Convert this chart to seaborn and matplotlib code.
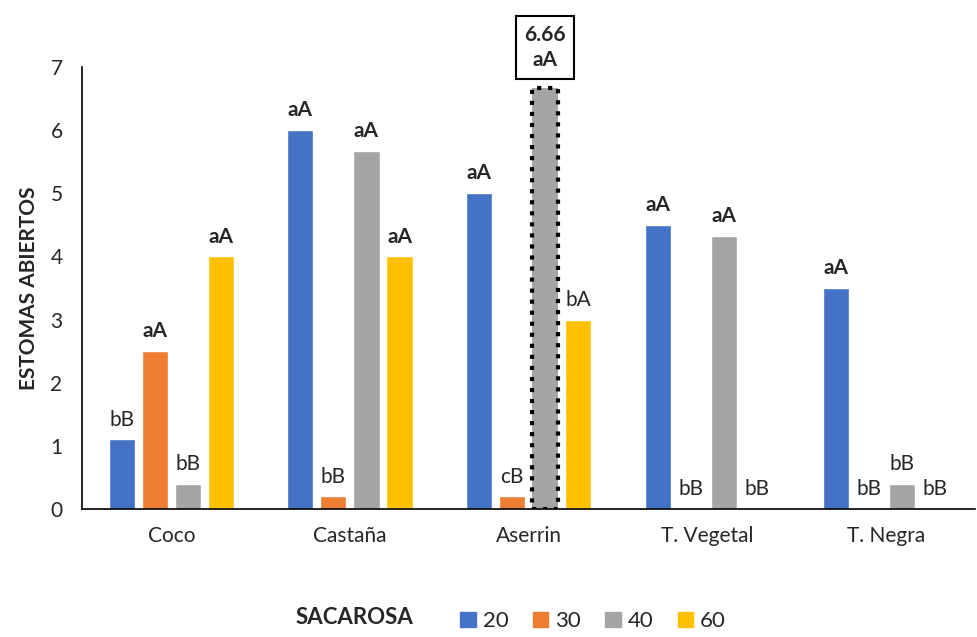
import pandas as pd
import matplotlib.pyplot as plt
import seaborn as sns

# Chart data
sustratos = ['Coco', 'Castaña', 'Aserrin', 'T. Vegetal', 'T. Negra']
dosis = ['20', '30', '40', '60']
valores = {
    '20': [1.1, 6.0, 5.0, 4.5, 3.5],
    '30': [2.5, 0.2, 0.2, 0.0, 0.0],
    '40': [0.4, 5.67, 6.66, 4.33, 0.4],
    '60': [4.0, 4.0, 3.0, 0.0, 0.0],
}
letras = {
    '20': ['bB', 'aA', 'aA', 'aA', 'aA'],
    '30': ['aA', 'bB', 'cB', 'bB', 'bB'],
    '40': ['bB', 'aA', '', 'aA', 'bB'],
    '60': ['aA', 'aA', 'bA', 'bB', 'bB'],
}
colores = ['#4472C4', '#ED7D31', '#A5A5A5', '#FFC000']

rows = []
for d in dosis:
    for s, v in zip(sustratos, valores[d]):
        rows.append({'Sustrato': s, 'Sacarosa': d, 'Valor': v})
df = pd.DataFrame(rows)

sns.set_style('white')
plt.rcParams['font.family'] = ['Lato', 'DejaVu Sans']

fig = plt.figure(figsize=(9.77, 6.37), dpi=100)
ax = fig.add_axes([0.084, 0.201, 0.914, 0.694])

sns.barplot(data=df, x='Sustrato', y='Valor', hue='Sacarosa', hue_order=dosis,
            palette=colores, width=0.74, gap=0.21, saturation=1,
            errorbar=None, legend=False, ax=ax)

# letter labels above bars (bold for "a" groups)
for cont, d in zip(ax.containers, dosis):
    for bar, lab in zip(cont, letras[d]):
        if not lab:
            continue
        x = bar.get_x() + bar.get_width() / 2
        ax.annotate(lab, (x, bar.get_height()), xytext=(0, 7), textcoords='offset points',
                    ha='center', va='bottom', fontsize=15,
                    fontweight='bold' if lab.startswith('a') else 'normal')

# highlight Aserrin 40
destacada = ax.containers[2][2]
destacada.set_edgecolor('black')
destacada.set_linestyle(':')
destacada.set_linewidth(3)
ax.annotate('6.66\naA', (destacada.get_x() + destacada.get_width() / 2, destacada.get_height()),
            xytext=(0, 13), textcoords='offset points', ha='center', va='bottom',
            fontsize=15, fontweight='bold', linespacing=1.35, annotation_clip=False,
            bbox=dict(boxstyle='square,pad=0.4', fc='white', ec='black', lw=1.5))

ax.set_ylim(0, 7)
ax.set_yticks(range(0, 8))
ax.set_xlim(-0.5, 4.5)
ax.set_xlabel('')
ax.set_ylabel('ESTOMAS ABIERTOS', fontsize=15, fontweight='bold', labelpad=8)
ax.tick_params(axis='y', labelsize=15, length=0, pad=14)
ax.tick_params(axis='x', labelsize=15, length=0, pad=12)
sns.despine(ax=ax)
ax.spines['left'].set_color('black')
ax.spines['bottom'].set_color('black')
ax.spines['left'].set_linewidth(1.2)
ax.spines['bottom'].set_linewidth(1.2)

handles = [plt.Rectangle((0, 0), 1, 1, color=c) for c in colores]
fig.legend(handles, dosis, loc='center', bbox_to_anchor=(0.607, 0.025), ncol=4,
           frameon=False, fontsize=16, handlelength=0.7, handleheight=0.7,
           handletextpad=0.3, columnspacing=1.1)
fig.text(0.363, 0.03, 'SACAROSA', ha='center', va='center', fontsize=16, fontweight='bold')

fig.savefig('out.png', dpi=100)
